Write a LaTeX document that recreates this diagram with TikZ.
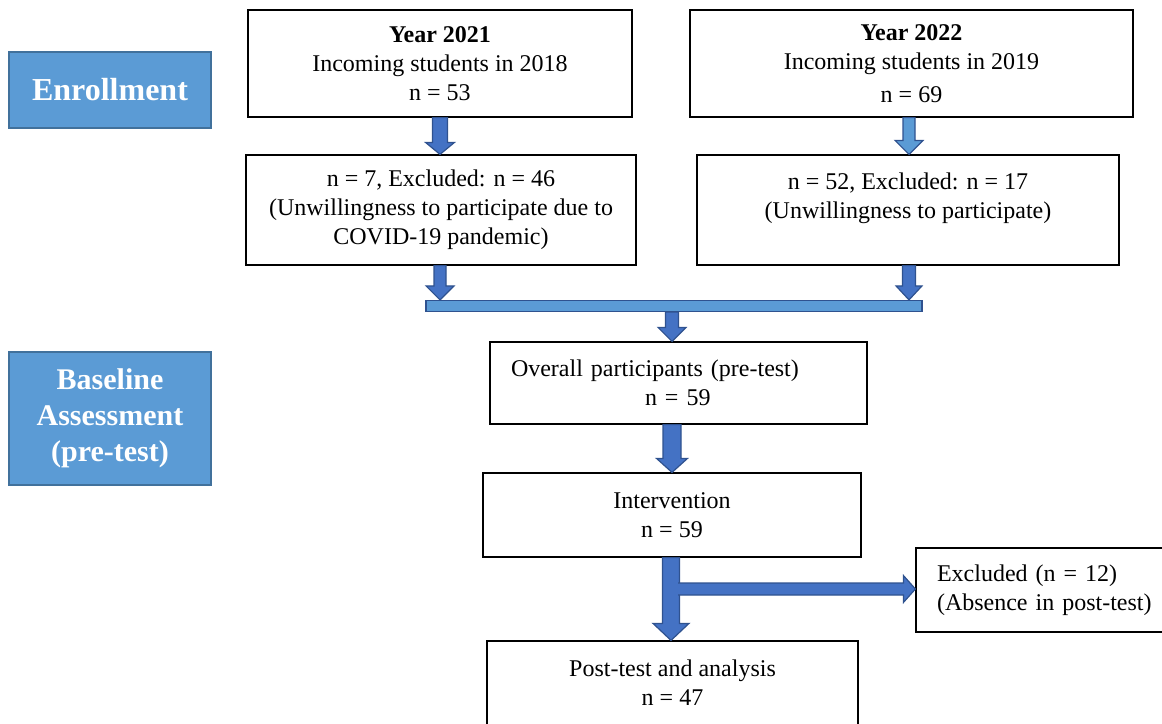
\documentclass[tikz,border=0pt]{standalone}
\usepackage{fontspec}
\setmainfont{Liberation Serif}
\usetikzlibrary{calc}

\definecolor{stageblue}{HTML}{5B9BD5}
\definecolor{stageedge}{HTML}{41719C}
\definecolor{arrowblue}{HTML}{4472C4}
\definecolor{arrowedge}{HTML}{2F528F}

\tikzset{
  stage/.style={draw=stageedge, line width=2.5pt, fill=stageblue, text=white,
    font=\fontsize{30}{36}\selectfont\bfseries, align=center, inner sep=0pt,
    minimum width=202pt},
  box/.style={draw=black, line width=1.2pt, fill=white,
    font=\fontsize{24}{29}\selectfont, align=center, inner sep=0pt},
  blockline/.style={draw=arrowedge, line width=1.2pt, line join=miter},
}

% block arrow pointing down: from, to, shaft half width, head half width, head length
\newcommand{\vblock}[6][arrowblue]{%
  \draw[blockline, fill=#1] let \p1=(#2), \p2=(#3) in
    (\x1-#4pt,\y1) -- (\x1-#4pt,\y2+#6pt) -- (\x1-#5pt,\y2+#6pt) -- (\x1,\y2)
    -- (\x1+#5pt,\y2+#6pt) -- (\x1+#4pt,\y2+#6pt) -- (\x1+#4pt,\y1) -- cycle;}

% block arrow pointing right, open at its start
\newcommand{\hblock}[6][arrowblue]{%
  \fill[#1] let \p1=(#2), \p2=(#3) in
    (\x1,\y1+#4pt) -- (\x2-#6pt,\y1+#4pt) -- (\x2-#6pt,\y1+#5pt) -- (\x2,\y1)
    -- (\x2-#6pt,\y1-#5pt) -- (\x2-#6pt,\y1-#4pt) -- (\x1,\y1-#4pt) -- cycle;
  \draw[blockline] let \p1=(#2), \p2=(#3) in
    (\x1,\y1+#4pt) -- (\x2-#6pt,\y1+#4pt) -- (\x2-#6pt,\y1+#5pt) -- (\x2,\y1)
    -- (\x2-#6pt,\y1-#5pt) -- (\x2-#6pt,\y1-#4pt) -- (\x1,\y1-#4pt);}

\begin{document}
\begin{tikzpicture}[x=1pt, y=-1pt]
    \useasboundingbox (0,0) rectangle (1162,723);

    % Stage labels
    \node[stage, minimum height=76pt, font=\fontsize{32}{36}\selectfont\bfseries]
        (enroll) at (110,90) {Enrollment};
    \node[stage, minimum height=133pt] (base) at (110,418.5)
        {Baseline\\Assessment\\(pre-test)};

    % Enrollment boxes
    \node[box, minimum width=384pt, minimum height=107pt] (y21) at (440,63.5)
        {\textbf{Year 2021}\\Incoming students in 2018\\n = 53};
    \node[box, minimum width=443pt, minimum height=107pt] (y22) at (911.5,63.5)
        {\textbf{Year 2022}\\Incoming students in 2019\\[4pt]n = 69};
    \node[box, minimum width=390pt, minimum height=110pt] (ex21) at (441,210)
        {n = 7, Excluded: n = 46\\(Unwillingness to participate due to\\COVID-19 pandemic)};
    \node[box, minimum width=422pt, minimum height=110pt] (ex22) at (908,210)
        {n = 52, Excluded: n = 17\\(Unwillingness to participate)\\\mbox{}};

    % Joining bar
    \node[draw=arrowedge, line width=1.2pt, fill=stageblue, inner sep=0pt,
        minimum width=496pt, minimum height=11pt] (bar) at (674,306) {};

    % Lower boxes
    \node[box, align=left, inner xsep=21pt, text width=335pt, minimum height=82pt]
        (overall) at (678.5,383)
        {Overall participants (pre-test)\\\hspace*{134pt}n = 59};
    \node[box, minimum width=378pt, minimum height=84pt] (interv) at (672,515)
        {Intervention\\n = 59};
    \node[box, align=left, inner xsep=21pt, text width=218pt, minimum height=84pt]
        (excl) at (1046,590)
        {Excluded (n = 12)\\(Absence in post-test)};
    \node[box, minimum width=371pt, minimum height=112pt] (post) at (672.5,697)
        {Post-test and analysis\\n = 47\\\mbox{}};

    % Arrows
    \vblock{y21.south}{ex21.north}{7.5}{14.5}{12}
    \vblock[stageblue]{[xshift=-2.5pt]y22.south}{ex22.north}{6}{14}{14}
    \vblock{[xshift=-1pt]ex21.south}{bar.north}{6}{14}{14}
    \vblock{[xshift=1pt]ex22.south}{bar.north}{6.5}{13}{14}
    \vblock{[xshift=-2pt]bar.south}{overall.north}{6.5}{14}{14}
    \vblock{[xshift=-6.5pt]overall.south}{interv.north}{9}{15.5}{14}
    \vblock{[xshift=-1pt]interv.south}{post.north}{8.5}{18}{17}
    \coordinate (branch) at (678,589);
    \hblock{branch}{excl.west}{6}{13.5}{12}
\end{tikzpicture}
\end{document}
